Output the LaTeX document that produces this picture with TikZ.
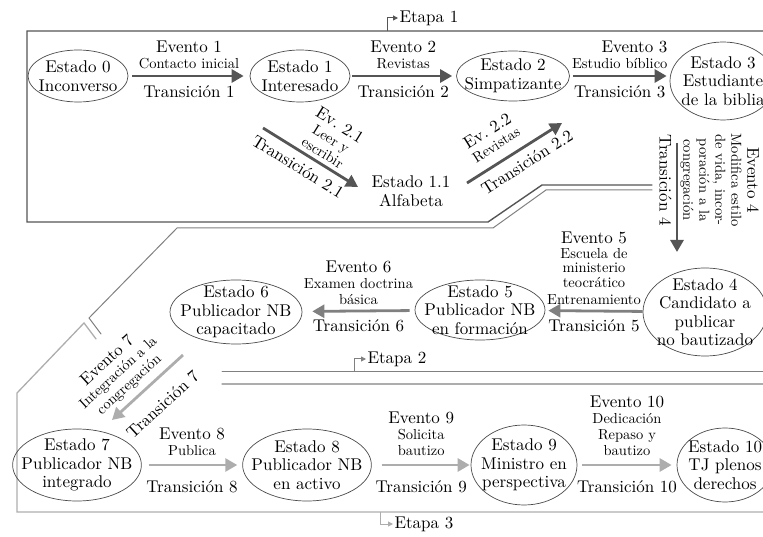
\documentclass[tikz,border=0pt]{standalone}
\usepackage{fontspec}
\setmainfont{lmroman10-regular.otf}
\usepackage{tkz-euclide}
\usetikzlibrary{arrows.meta,shapes.geometric}
\definecolor{grisA}{HTML}{555555}
\definecolor{grisB}{HTML}{808080}
\definecolor{grisC}{HTML}{ADADAD}
\definecolor{borde}{HTML}{4A4A4A}
\newcommand\tam{\fontsize{17}{18.5}\selectfont}
\newcommand\chico{\fontsize{14.5}{16}\selectfont}

\begin{document}
\begin{tikzpicture}[x=1pt,y=1pt,font=\tam,
  estado/.style={ellipse, draw=borde, line width=.7pt, align=center,
    inner xsep=-10pt, inner ysep=-8pt},
  flecha/.style={line width=2.8pt, -{Triangle[length=12pt,width=13pt]}},
  evento/.style={align=center, inner sep=2pt, font=\chico},
  transicion/.style={inner sep=2pt},
  marca/.style={line width=1pt, -{Triangle[length=5pt,width=5pt]}},
  etapaA/.style={draw=grisA, line width=1.4pt},
  etapaB/.style={draw=grisB, line width=1pt},
  etapaC/.style={draw=grisC, line width=1.3pt}]
  \useasboundingbox (0,0) rectangle (763,536);
  % 定义三个阶段边界线的点
  \tkzDefPoint(770,505){A}
  \tkzDefPoint(27,505){B}
  \tkzDefPoint(27,314){C}
  \tkzDefPoint(488,314){D}
  \tkzDefPoint(542,351){E}
  \tkzDefPoint(652,351){F}
  \tkzDefPoint(652,346){G}
  \tkzDefPoint(546,346){H}
  \tkzDefPoint(493,308){I}
  \tkzDefPoint(177,308){J}
  \tkzDefPoint(89,218){K}
  \tkzDefPoint(101,202){L}
  \tkzDefPoint(96,197){M}
  \tkzDefPoint(84,213){N}
  \tkzDefPoint(17,143){O}
  \tkzDefPoint(17,24){P}
  \tkzDefPoint(770,24){Q}
  \tkzDefPoint(222,165){R}
  \tkzDefPoint(770,165){S}
  \tkzDefPoint(222,152){T}
  \tkzDefPoint(770,152){U}
  % 绘制边界线
  \tkzDrawPolySeg[etapaA](A,B,C,D,E,F)
  \tkzDrawPolySeg[etapaB](G,H,I,J,K,L)
  \tkzDrawPolySeg[etapaC](M,N,O,P,Q)
  \tkzDrawSegment[etapaB](R,S)
  \tkzDrawSegment[etapaC](T,U)
  % 阶段标记
  \tkzDefPoint(387,505){P1}
  \tkzDefPoint(398,518){R1}
  \tkzDefPoint(354,165){P2}
  \tkzDefPoint(366,177){R2}
  \tkzDefPoint(380,24){P3}
  \tkzDefPoint(393,12){R3}
  \draw[marca, draw=grisA] (P1) |- (R1) node[right, inner sep=1pt] (et1) {Etapa 1};
  \draw[marca, draw=grisB] (P2) |- (R2) node[right, inner sep=1pt] (et2) {Etapa 2};
  \draw[marca, draw=grisC] (P3) |- (R3) node[right, inner sep=1pt] (et3) {Etapa 3};
  % 第一阶段的状态
  \node[estado, minimum width=100pt, minimum height=52pt] (e0) at (78,460) {Estado 0\\Inconverso};
  \node[estado, minimum width=100pt, minimum height=52pt] (e1) at (300,460) {Estado 1\\Interesado};
  \node[estado, minimum width=113pt, minimum height=50pt] (e2) at (513,460) {Estado 2\\Simpatizante};
  \node[estado, minimum width=106pt, minimum height=78pt] (e3) at (723,455) {Estado 3\\Estudiante\\de la biblia};
  \node[align=center] (e11) at (411,345) {Estado 1.1\\Alfabeta};
  % 第二阶段的状态
  \node[estado, minimum width=124pt, minimum height=88pt] (e4) at (705,224) {Estado 4\\Candidato a\\publicar\\no bautizado};
  \node[estado, minimum width=130pt, minimum height=60pt] (e5) at (480,226) {Estado 5\\Publicador NB\\en formación};
  \node[estado, minimum width=132pt, minimum height=64pt] (e6) at (236,224) {Estado 6\\Publicador NB\\capacitado};
  % 第三阶段的状态
  \node[estado, minimum width=117pt, minimum height=72pt] (e7) at (77,71) {Estado 7\\Publicador NB\\integrado};
  \node[estado, minimum width=120pt, minimum height=72pt] (e8) at (307,71) {Estado 8\\Publicador NB\\en activo};
  \node[estado, minimum width=106pt, minimum height=80pt] (e9) at (524,71) {Estado 9\\Ministro en\\perspectiva};
  \node[estado, minimum width=96pt, minimum height=74pt] (e10) at (725,71) {Estado 10\\TJ plenos\\derechos};
  % 斜向与竖向箭头的端点
  \tkzDefPoint(263,408){T21a}
  \tkzDefPoint(358,349){T21b}
  \tkzDefPoint(467,353){T22a}
  \tkzDefPoint(562,413){T22b}
  \tkzDefPoint(677,393){T4a}
  \tkzDefPoint(677,284){T4b}
  \tkzDefPoint(183,181){T7a}
  \tkzDefPoint(112,116){T7b}
  % 第一阶段的转移
  \draw[flecha, draw=grisA, shorten <=4pt, shorten >=6pt] (e0) -- (e1)
    node[evento, midway, above=4pt] (ev1) {{\tam Evento 1}\\Contacto inicial}
    node[transicion, midway, below=6pt] (tr1) {Transición 1};
  \draw[flecha, draw=grisA, shorten <=2pt, shorten >=4pt] (e1) -- (e2)
    node[evento, midway, above=4pt] (ev2) {{\tam Evento 2}\\Revistas}
    node[transicion, midway, below=6pt] (tr2) {Transición 2};
  \draw[flecha, draw=grisA, shorten <=3pt, shorten >=3pt] (e2) -- (e2 -| e3.west)
    node[evento, align=right, midway, above=4pt] (ev3) {{\tam Evento 3}\\Estudio bíblico}
    node[transicion, midway, below=6pt] (tr3) {Transición 3};
  \draw[flecha, draw=grisA] (T21a) -- (T21b)
    node[evento, sloped, pos=.57, above=2pt] (ev21) {{\tam Ev.\ 2.1}\\Leer y\\escribir}
    node[transicion, sloped, pos=.45, below=5pt] (tr21) {Transición 2.1};
  \draw[flecha, draw=grisA] (T22a) -- (T22b)
    node[evento, sloped, pos=.4, above=8pt] (ev22) {{\tam Ev.\ 2.2}\\Revistas}
    node[transicion, sloped, pos=.55, below=5pt] (tr22) {Transición 2.2};
  \draw[flecha, draw=grisA] (T4a) -- (T4b)
    node[evento, sloped, allow upside down, pos=.34, above=0pt] (ev4) {{\tam Evento 4}\\Modifica estilo\\de vida, incor-\\poración a la\\congregación}
    node[transicion, sloped, allow upside down, pos=.34, below=2pt] (tr4) {Transición 4};
  % 第二阶段的转移
  \draw[flecha, draw=grisB, shorten >=3pt] (e4) -- (e5)
    node[evento, midway, above=3pt] (ev5) {{\tam Evento 5}\\[-1.5pt]Escuela de\\[-1.5pt]ministerio\\[-1.5pt]teocrático\\[1pt]Entrenamiento}
    node[transicion, midway, below=5pt] (tr5) {Transición 5};
  \draw[flecha, draw=grisB, shorten <=5pt, shorten >=10pt] (e5) -- (e6)
    node[evento, midway, above=3pt] (ev6) {{\tam Evento 6}\\Examen doctrina\\básica}
    node[transicion, midway, below=5pt] (tr6) {Transición 6};
  \draw[flecha, draw=grisC] (T7a) -- (T7b)
    node[evento, sloped, pos=.62, above=4pt] (ev7) {{\tam Evento 7}\\Integración a la\\congregación}
    node[transicion, sloped, pos=.5, below=13pt] (tr7) {Transición 7};
  % 第三阶段的转移
  \draw[flecha, draw=grisC, shorten <=7pt, shorten >=5pt] (e7) -- (e8)
    node[evento, midway, above=6pt] (ev8) {{\tam Evento 8}\\Publica}
    node[transicion, midway, below=12pt] (tr8) {Transición 8};
  \draw[flecha, draw=grisC, shorten <=10pt, shorten >=1pt] (e8) -- (e9)
    node[evento, midway, above=6pt] (ev9) {{\tam Evento 9}\\Solicita\\bautizo}
    node[transicion, midway, below=12pt] (tr9) {Transición 9};
  \draw[flecha, draw=grisC, shorten <=5pt, shorten >=5pt] (e9) -- (e10)
    node[evento, midway, above=6pt] (ev10) {{\tam Evento 10}\\Dedicación\\Repaso y\\bautizo}
    node[transicion, midway, below=12pt] (tr10) {Transición 10};
\end{tikzpicture}
\end{document}
